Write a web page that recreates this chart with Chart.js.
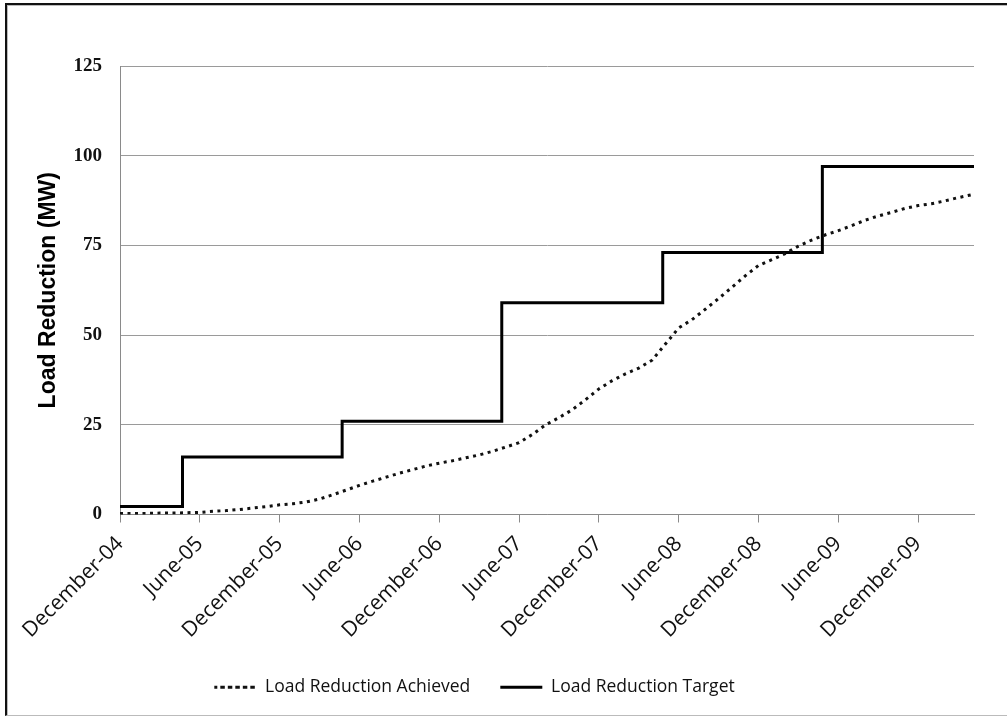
<!DOCTYPE html>
<html>
<head>
<meta charset="utf-8">
<script src="https://cdn.jsdelivr.net/npm/chart.js@4/dist/chart.umd.min.js"></script>
<style>
  html, body { margin: 0; padding: 0; background: #fff; }
  #frame {
    position: absolute; left: 5px; top: 3px; width: 1002px; height: 713px;
    border-left: 2px solid #111; border-top: 2px solid #111;
    border-bottom: 1px solid #bbb; box-sizing: border-box;
  }
  #inner {
    position: absolute; left: 0; top: 0; right: 0; bottom: 0;
    border-left: 1px solid #bbb; border-top: 1px solid #bbb;
  }
  #wrap { position: absolute; left: 7px; top: 5px; width: 1000px; height: 710px; }
</style>
</head>
<body>
<div id="frame"><div id="inner"></div></div>
<div id="wrap"><canvas id="chart"></canvas></div>
<script>
// months counted from December 2004
const tickLabels = ['December-04', 'June-05', 'December-05', 'June-06', 'December-06', 'June-07',
  'December-07', 'June-08', 'December-08', 'June-09', 'December-09'];

// monthly achieved load reduction (MW), Dec-04 .. Apr-10
const achieved = [
  0.3, 0.3, 0.3, 0.4, 0.4, 0.5, 0.6, 0.9, 1.1, 1.4, 1.8, 2.2,
  2.7, 3.0, 3.5, 4.3, 5.5, 6.8, 8.1, 9.3, 10.4, 11.5, 12.5, 13.5,
  14.3, 15.0, 15.8, 16.6, 17.6, 18.8, 20.0, 22.3, 25.0, 27.0, 29.2, 32.0,
  35.0, 37.3, 39.2, 40.8, 43.0, 47.5, 52.0, 54.3, 57.2, 60.2, 63.3, 66.5,
  69.4, 71.0, 72.7, 74.8, 76.5, 77.9, 79.1, 80.5, 82.0, 83.2, 84.2, 85.3,
  86.1, 86.6, 87.4, 88.3, 89.1
];

// target steps: month where each level starts, and the level (MW)
const targetMonths = [0, 4.7, 16.7, 28.7, 40.8, 52.8, 64.2];
const targetValues = [2.2, 16, 26, 59, 73, 97, 97];

const achievedPoints = achieved.map((v, i) => ({ x: i, y: v }));
const targetPoints = targetMonths.map((m, i) => ({ x: m, y: targetValues[i] }));

// legend sits a little left of centre in the original
const legendShift = {
  id: 'legendShift',
  afterLayout(chart) {
    chart.legend.left -= 16;
    chart.legend.right -= 16;
  }
};

const ctx = document.getElementById('chart').getContext('2d');

new Chart(ctx, {
  type: 'line',
  plugins: [legendShift],
  data: {
    datasets: [
      {
        label: 'Load Reduction Achieved',
        data: achievedPoints,
        borderColor: '#111',
        backgroundColor: 'transparent',
        borderWidth: 3,
        borderDash: [3, 4.5],
        borderCapStyle: 'butt',
        pointRadius: 0,
        tension: 0
      },
      {
        label: 'Load Reduction Target',
        data: targetPoints,
        borderColor: '#000',
        backgroundColor: 'transparent',
        borderWidth: 3,
        borderCapStyle: 'butt',
        stepped: 'before',
        pointRadius: 0
      }
    ]
  },
  options: {
    responsive: true,
    maintainAspectRatio: false,
    animation: false,
    layout: { padding: { top: 61, right: 33, left: 0, bottom: 9 } },
    plugins: {
      tooltip: { enabled: false },
      legend: {
        position: 'bottom',
        labels: {
          boxWidth: 42,
          boxHeight: 0,
          padding: 30,
          color: '#111',
          font: { family: 'Open Sans', size: 17.5 }
        }
      }
    },
    scales: {
      x: {
        type: 'linear',
        min: 0,
        max: 64.2,
        afterBuildTicks: scale => {
          scale.ticks = tickLabels.map((_, i) => ({ value: i * 6 }));
        },
        afterFit: scale => { scale.height = 134; },
        grid: {
          drawOnChartArea: false,
          drawTicks: true,
          tickLength: 8,
          tickColor: '#8a8a8a'
        },
        border: { color: '#8a8a8a', width: 1 },
        ticks: {
          autoSkip: false,
          maxRotation: 45,
          minRotation: 45,
          padding: 9,
          color: '#111',
          font: { family: 'Open Sans', size: 21 },
          callback: value => tickLabels[Math.round(value / 6)]
        }
      },
      y: {
        min: 0,
        max: 125,
        afterFit: scale => { scale.width = 113; },
        grid: { color: '#9a9a9a', drawTicks: false },
        border: { color: '#8a8a8a', width: 1 },
        ticks: {
          stepSize: 25,
          padding: 18,
          color: '#111',
          font: { family: 'Liberation Serif', size: 19, weight: 'bold' }
        },
        title: {
          display: true,
          text: 'Load Reduction (MW)',
          color: '#000',
          padding: { top: 28 },
          font: { family: 'Liberation Sans', size: 23, weight: 'bold' }
        }
      }
    }
  }
});
</script>
</body>
</html>
